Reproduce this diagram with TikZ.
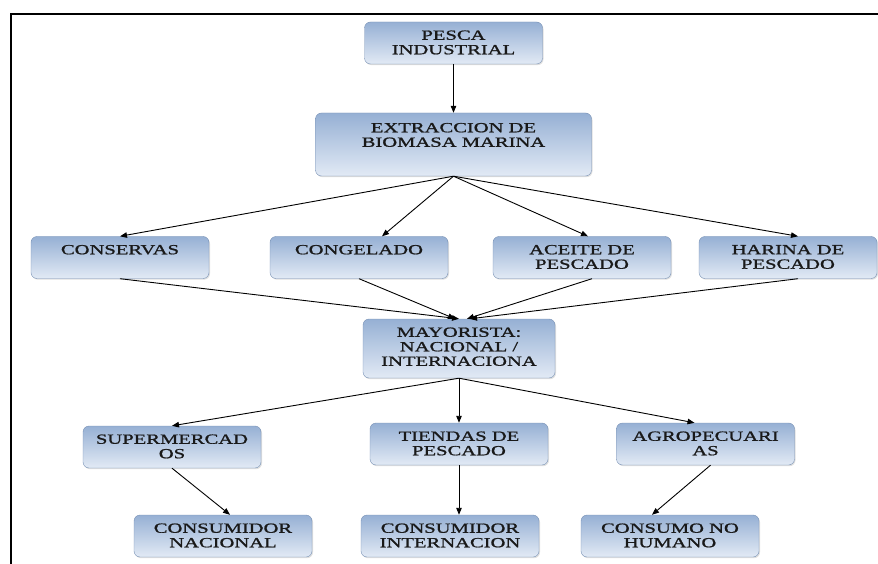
\documentclass[tikz,border=0pt]{standalone}
\usepackage{fontspec}
\setmainfont{Liberation Serif}[FakeStretch=1.47, FakeBold=1.2]
\usepackage{xcolor}
\usetikzlibrary{arrows, arrows.meta}
\usetikzlibrary{shadows}

\definecolor{cajaarriba}{RGB}{150,176,212}
\definecolor{cajaabajo}{RGB}{226,234,245}
\definecolor{cajaborde}{RGB}{120,145,180}

\tikzset{
  caja/.style={draw=cajaborde, rounded corners=6pt, top color=cajaarriba, bottom color=cajaabajo,
    minimum width=178pt, minimum height=42pt, inner sep=0pt,
    drop shadow={opacity=0.25, shadow xshift=1pt, shadow yshift=-1.2pt}},
  texto/.style={anchor=north, align=center, inner sep=0pt, text=black!90,
    font=\fontsize{14}{14.5}\selectfont, yshift=-8.5pt},
  flecha/.style={-{Triangle[length=7pt, width=5.5pt]}, line width=0.9pt}
}

\begin{document}
\begin{tikzpicture}[x=1pt, y=-1pt]
    \useasboundingbox (0,0) rectangle (878,564);
    \draw [line width=1.6pt] (878,14)--(11,14)--(11,564);

    % cajas
    \node [caja] (pesca) at (453.5,43) {};
    \node [texto] (tpesca) at (pesca.north) {PESCA\\INDUSTRIAL};
    \node [caja, minimum width=276pt, minimum height=63pt] (extraccion) at (453.5,144.5) {};
    \node [texto, yshift=-1.5pt] (textraccion) at (extraccion.north) {EXTRACCION DE\\BIOMASA MARINA};

    \node [caja] (conservas) at (120,257.5) {};
    \node [texto] (tconservas) at (conservas.north) {CONSERVAS};
    \node [caja] (congelado) at (359,257.5) {};
    \node [texto] (tcongelado) at (congelado.north) {CONGELADO};
    \node [caja] (aceite) at (582,257.5) {};
    \node [texto] (taceite) at (aceite.north) {ACEITE DE\\PESCADO};
    \node [caja] (harina) at (788,257.5) {};
    \node [texto] (tharina) at (harina.north) {HARINA DE\\PESCADO};

    \node [caja, minimum width=192pt, minimum height=59pt] (mayorista) at (459,348.5) {};
    \node [texto] (tmayorista) at (mayorista.north) {MAYORISTA:\\NACIONAL /\\INTERNACIONA};

    \node [caja] (super) at (172,447) {};
    \node [texto] (tsuper) at (super.north) {SUPERMERCAD\\OS};
    \node [caja] (tiendas) at (459,444) {};
    \node [texto] (ttiendas) at (tiendas.north) {TIENDAS DE\\PESCADO};
    \node [caja] (agro) at (705.5,444) {};
    \node [texto] (tagro) at (agro.north) {AGROPECUARI\\AS};

    \node [caja] (nacional) at (223,536) {};
    \node [texto] (tnacional) at (nacional.north) {CONSUMIDOR\\NACIONAL};
    \node [caja] (internacional) at (450,536) {};
    \node [texto] (tinternacional) at (internacional.north) {CONSUMIDOR\\INTERNACION};
    \node [caja] (nohumano) at (670,536) {};
    \node [texto] (tnohumano) at (nohumano.north) {CONSUMO NO\\HUMANO};

    % flechas
    \draw [flecha] (pesca.south) -- (extraccion.north);
    \draw [flecha] (extraccion.south) -- (conservas.north);
    \draw [flecha] (extraccion.south) -- ([xshift=23pt]congelado.north);
    \draw [flecha] (extraccion.south) -- ([xshift=6pt]aceite.north);
    \draw [flecha] (extraccion.south) -- ([xshift=10pt]harina.north);
    \draw [flecha] (conservas.south) -- (mayorista.north);
    \draw [flecha] (congelado.south) -- ([xshift=-4pt]mayorista.north);
    \draw [flecha] ([xshift=10pt]aceite.south) -- ([xshift=8pt]mayorista.north);
    \draw [flecha] ([xshift=10pt]harina.south) -- ([xshift=11pt]mayorista.north);
    \draw [flecha] (mayorista.south) -- (super.north);
    \draw [flecha] (mayorista.south) -- (tiendas.north);
    \draw [flecha] (mayorista.south) -- ([xshift=-11pt]agro.north);
    \draw [flecha] (super.south) -- ([xshift=7pt]nacional.north);
    \draw [flecha] (tiendas.south) -- ([xshift=9pt]internacional.north);
    \draw [flecha] ([xshift=5pt]agro.south) -- ([xshift=-18pt]nohumano.north);
\end{tikzpicture}
\end{document}
